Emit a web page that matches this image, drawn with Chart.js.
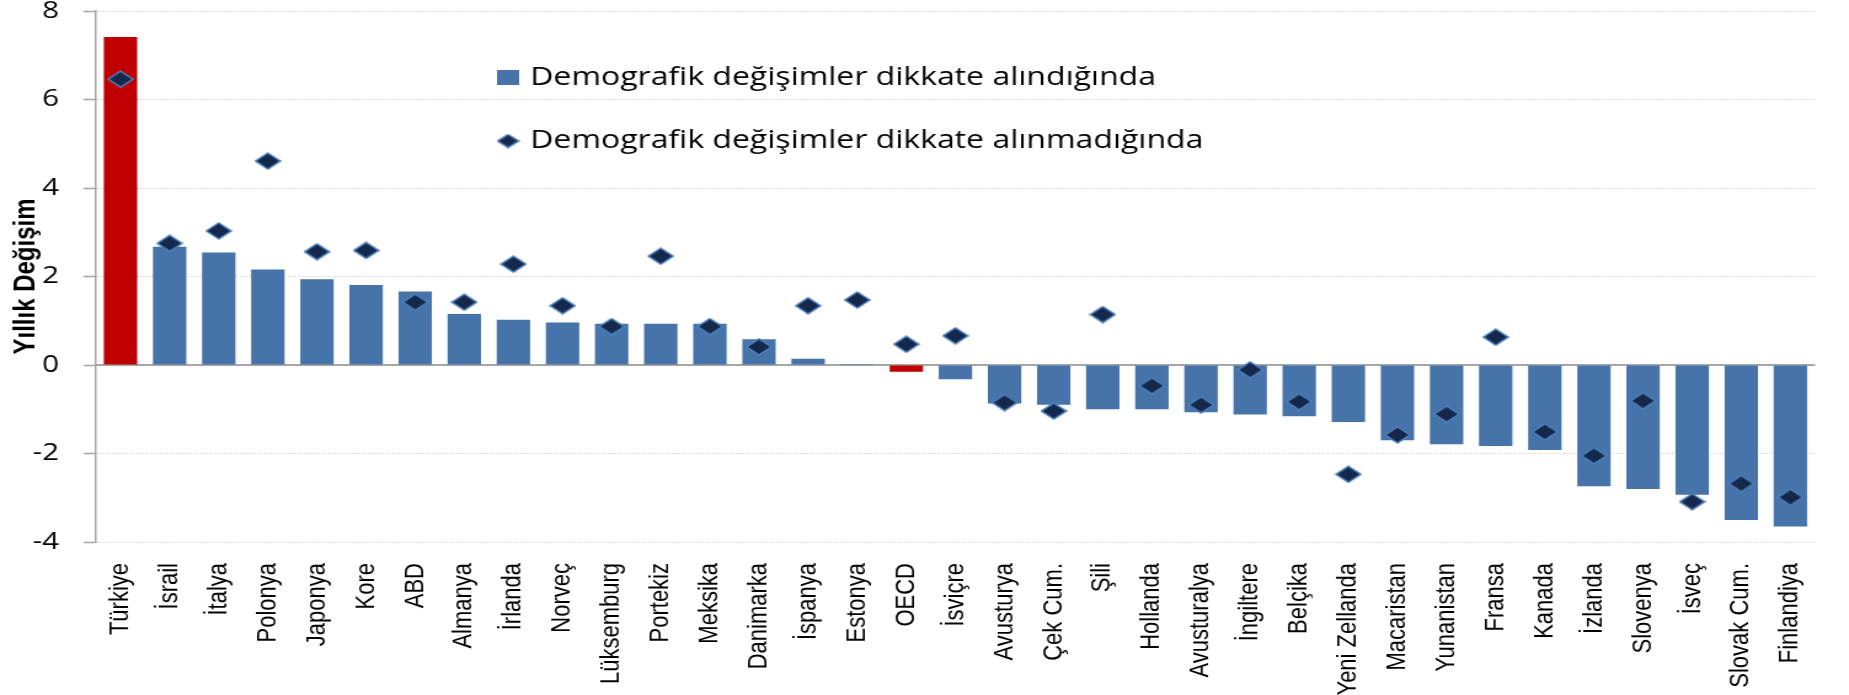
<!DOCTYPE html>
<html>
<head>
<meta charset="utf-8">
<script src="https://cdn.jsdelivr.net/npm/chart.js@4.4.1/dist/chart.umd.min.js"></script>
<style>
    html, body { margin: 0; padding: 0; background: #fff; overflow: hidden; }
    /* the reference is stretched sideways, so the chart is drawn narrower and widened */
    #wrap { width: 1503px; height: 695px; transform: scaleX(1.2302); transform-origin: 0 0; }
</style>
</head>
<body>
<div id="wrap"><canvas id="chart"></canvas></div>
<script>
const countries = ['Türkiye', 'İsrail', 'İtalya', 'Polonya', 'Japonya', 'Kore', 'ABD', 'Almanya', 'İrlanda', 'Norveç',
    'Lüksemburg', 'Portekiz', 'Meksika', 'Danimarka', 'İspanya', 'Estonya', 'OECD', 'İsviçre', 'Avusturya', 'Çek Cum.',
    'Şili', 'Hollanda', 'Avusturalya', 'İngiltere', 'Belçika', 'Yeni Zellanda', 'Macaristan', 'Yunanistan', 'Fransa', 'Kanada',
    'İzlanda', 'Slovenya', 'İsveç', 'Slovak Cum.', 'Finlandiya'];

const withDemography = [7.41, 2.67, 2.54, 2.16, 1.94, 1.81, 1.66, 1.15, 1.02, 0.96,
    0.93, 0.93, 0.93, 0.58, 0.14, 0.02, -0.15, -0.32, -0.87, -0.90,
    -1.00, -1.00, -1.07, -1.12, -1.16, -1.29, -1.70, -1.79, -1.83, -1.92,
    -2.74, -2.80, -2.93, -3.50, -3.65];

const withoutDemography = [6.46, 2.75, 3.03, 4.61, 2.56, 2.59, 1.42, 1.42, 2.28, 1.34,
    0.87, 2.46, 0.87, 0.41, 1.34, 1.47, 0.47, 0.66, -0.85, -1.04,
    1.14, -0.47, -0.90, -0.11, -0.83, -2.47, -1.58, -1.11, 0.63, -1.51,
    -2.05, -0.81, -3.09, -2.68, -2.99];

const seriesNames = ['Demografik değişimler dikkate alındığında', 'Demografik değişimler dikkate alınmadığında'];
const highlighted = ['Türkiye', 'OECD'];
const yMin = -4, yMax = 8, yStep = 2;

const BLUE = '#4674AA';
const RED = '#C00000';

// diamond marker
function makeDiamond(w, h) {
    const c = document.createElement('canvas');
    c.width = w + 2;
    c.height = h + 2;
    const g = c.getContext('2d');
    const cx = c.width / 2, cy = c.height / 2;
    g.beginPath();
    g.moveTo(cx, cy - h / 2);
    g.lineTo(cx + w / 2, cy);
    g.lineTo(cx, cy + h / 2);
    g.lineTo(cx - w / 2, cy);
    g.closePath();
    g.fillStyle = '#13284A';
    g.fill();
    g.lineWidth = 1.5;
    g.strokeStyle = '#4F81BD';
    g.stroke();
    return c;
}
const diamond = makeDiamond(20, 16);
const legendDiamond = makeDiamond(17, 13);

const zeroLine = {
    id: 'zeroLine',
    beforeDatasetsDraw(chart) {
        const { ctx, chartArea, scales } = chart;
        const y = scales.y.getPixelForValue(0);
        ctx.save();
        ctx.strokeStyle = '#a6a6a6';
        ctx.lineWidth = 2;
        ctx.beginPath();
        ctx.moveTo(chartArea.left, y);
        ctx.lineTo(chartArea.right, y);
        ctx.stroke();
        ctx.restore();
    }
};

const insideLegend = {
    id: 'insideLegend',
    afterDraw(chart) {
        const { ctx, chartArea } = chart;
        const x = chartArea.left + 326;
        const rows = [chartArea.top + 67, chartArea.top + 130];
        ctx.save();
        ctx.fillStyle = BLUE;
        ctx.fillRect(x, rows[0] - 8, 18, 15);
        ctx.drawImage(legendDiamond, x + 9 - legendDiamond.width / 2, rows[1] - legendDiamond.height / 2);
        ctx.fillStyle = '#000';
        ctx.font = '26px "Open Sans"';
        ctx.textBaseline = 'middle';
        ctx.textAlign = 'left';
        ctx.fillText(seriesNames[0], x + 27, rows[0]);
        ctx.fillText(seriesNames[1], x + 27, rows[1]);
        ctx.restore();
    }
};

new Chart(document.getElementById('chart'), {
    data: {
        labels: countries,
        datasets: [
            {
                type: 'line',
                label: seriesNames[1],
                data: withoutDemography,
                showLine: false,
                pointStyle: diamond,
                pointRadius: 10,
                order: 0
            },
            {
                type: 'bar',
                label: seriesNames[0],
                data: withDemography,
                backgroundColor: countries.map(c => highlighted.includes(c) ? RED : BLUE),
                barPercentage: 0.68,
                categoryPercentage: 1,
                order: 1
            }
        ]
    },
    options: {
        responsive: true,
        maintainAspectRatio: false,
        animation: false,
        layout: { padding: { top: 11, right: 17, left: 0, bottom: 0 } },
        plugins: {
            legend: { display: false },
            tooltip: { enabled: false }
        },
        scales: {
            x: {
                grid: { display: false, drawTicks: false },
                border: { display: false },
                ticks: {
                    autoSkip: false,
                    minRotation: 90,
                    maxRotation: 90,
                    padding: 21,
                    color: '#000',
                    font: { family: '"Liberation Sans", Arial, sans-serif', size: 22 }
                },
                afterFit(scale) { scale.height = 153; }
            },
            y: {
                min: yMin,
                max: yMax,
                ticks: {
                    stepSize: yStep,
                    padding: 20,
                    color: '#000',
                    font: { family: '"Open Sans", sans-serif', size: 24, lineHeight: 1 }
                },
                grid: {
                    color: '#d4d4d4',
                    lineWidth: 1,
                    tickLength: 10,
                    tickColor: '#a6a6a6',
                    tickWidth: 1.5
                },
                border: { display: true, color: '#a6a6a6', width: 1.5, dash: [2, 2] },
                title: {
                    display: true,
                    text: 'Yıllık Değişim',
                    color: '#000',
                    padding: { top: 7, bottom: 0 },
                    font: { family: '"Liberation Sans Narrow", "Liberation Sans", sans-serif', size: 24, weight: 'bold' }
                },
                afterFit(scale) {
                    scale.width = 78;
                    // keep the tick padding from pushing the plot down
                    scale.paddingTop = 11;
                    scale.paddingBottom = 11;
                }
            }
        }
    },
    plugins: [zeroLine, insideLegend]
});
</script>
</body>
</html>
